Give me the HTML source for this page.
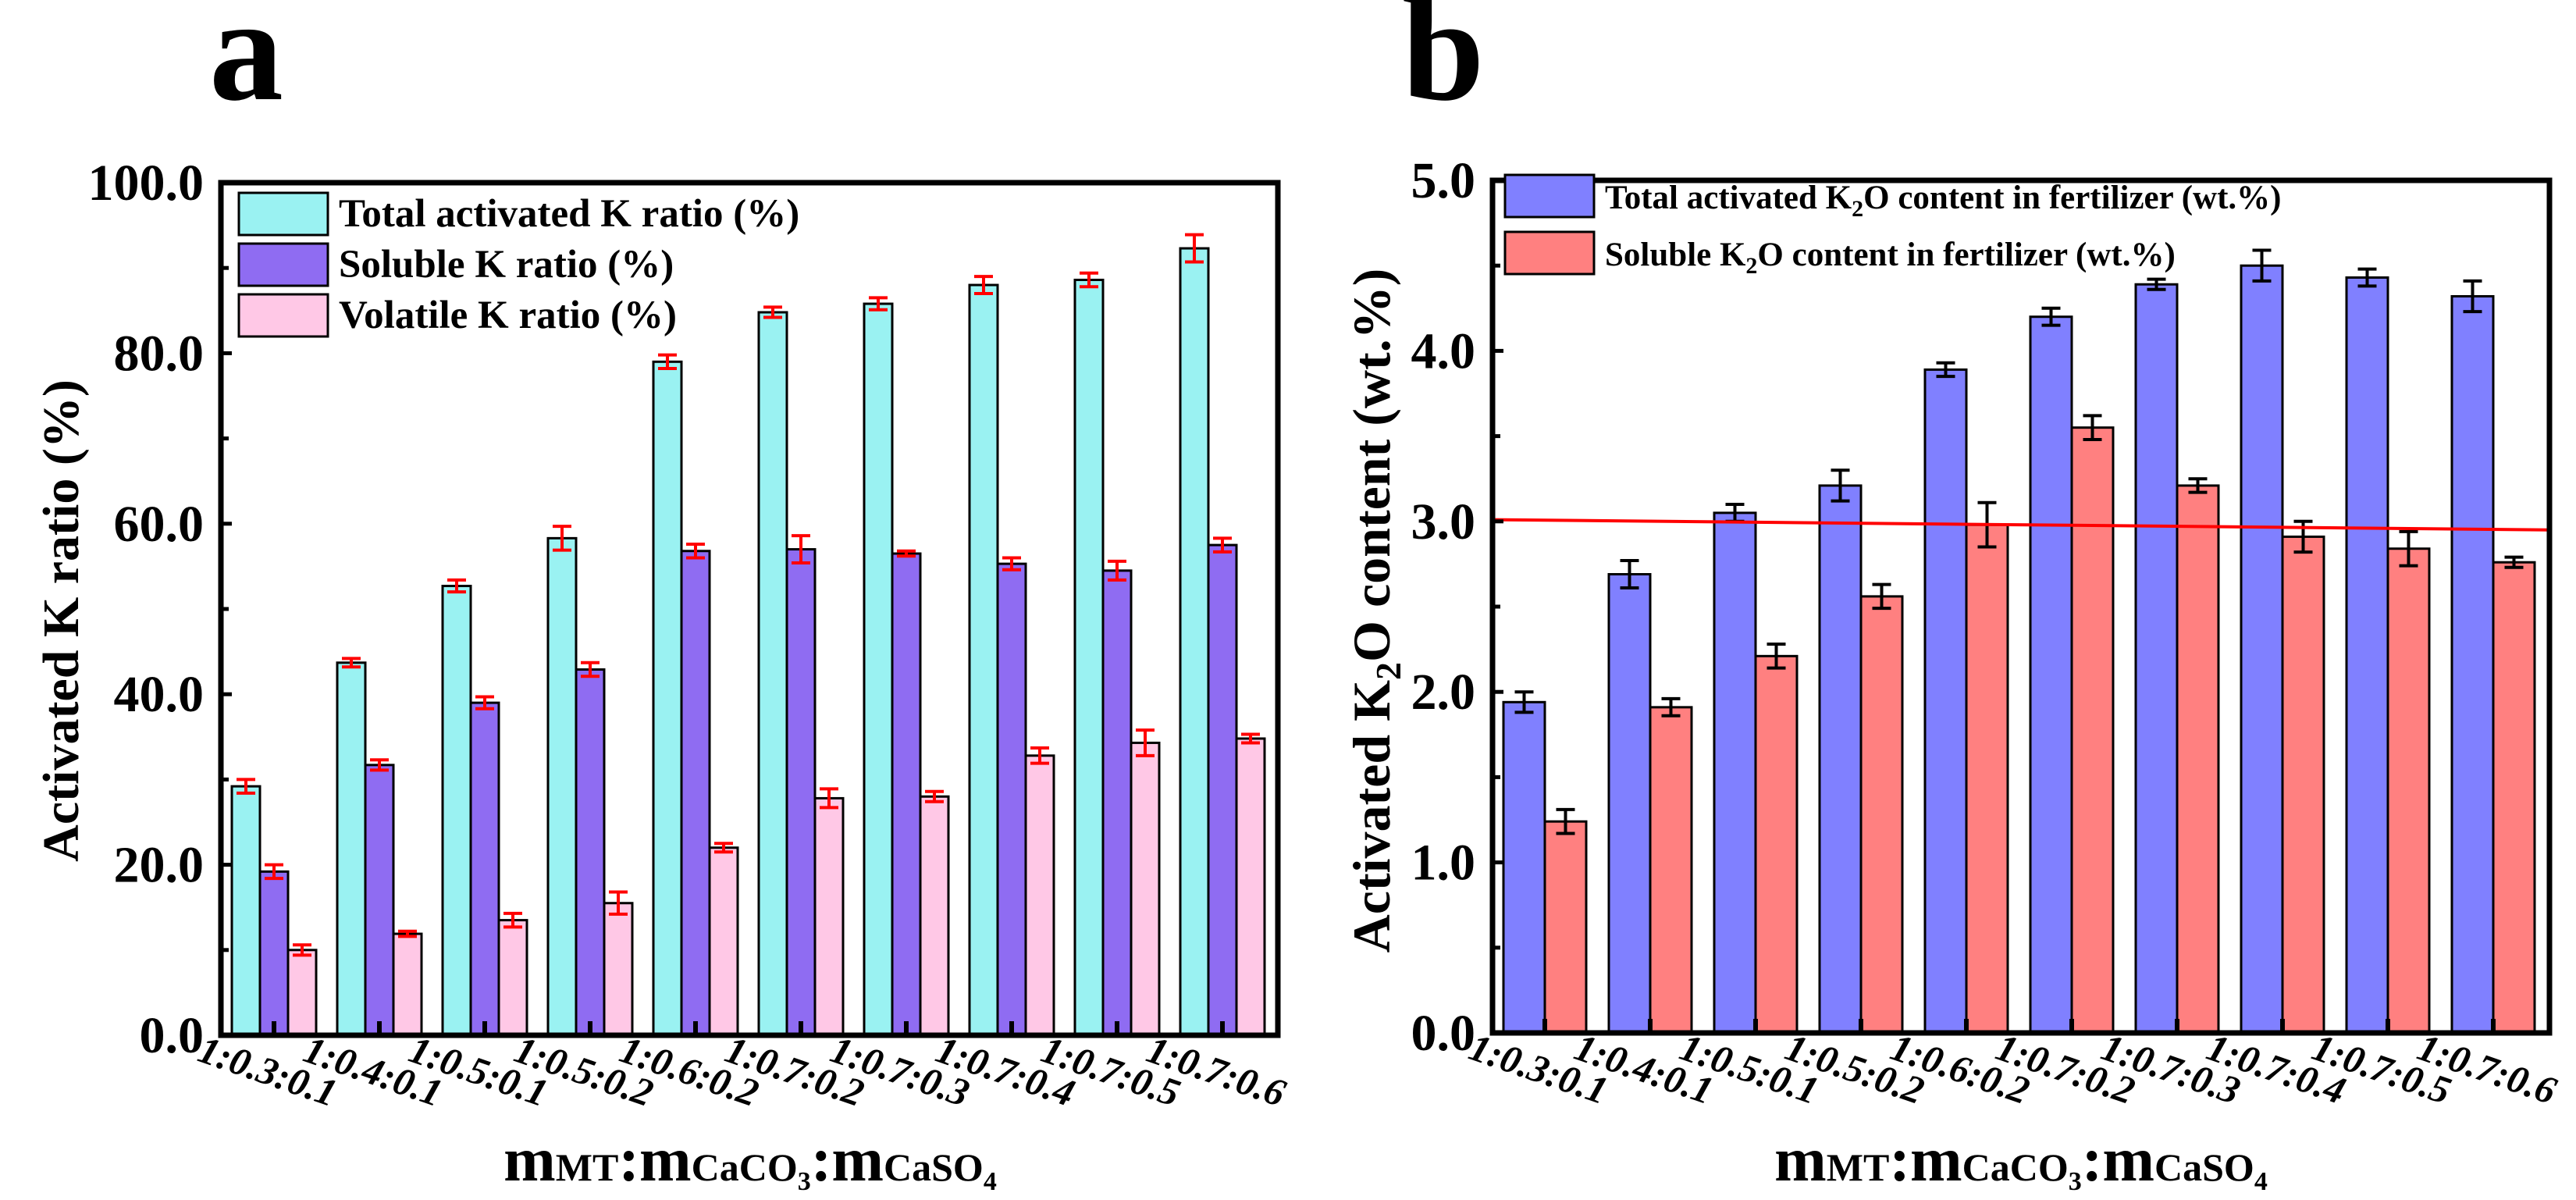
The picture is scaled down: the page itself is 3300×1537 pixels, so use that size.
<!DOCTYPE html>
<html><head><meta charset="utf-8">
<style>
html,body{margin:0;padding:0;background:#fff;}
svg{display:block;font-family:"Liberation Serif",serif;}
</style></head>
<body>
<svg id="svg" width="3300" height="1537" viewBox="0 0 3300 1537" xmlns="http://www.w3.org/2000/svg">
  <text x="268" y="127" font-size="190" font-weight="bold">a</text>
  <text x="1796" y="127" font-size="190" font-weight="bold">b</text>
  <g id="chartA"></g>
  <g id="chartB"></g>
  <text x="100" y="795" transform="rotate(-90 100 795)" text-anchor="middle" font-size="66" font-weight="bold">Activated K ratio (%)</text>
  <text x="1780" y="782" transform="rotate(-90 1780 782)" text-anchor="middle" font-size="68" font-weight="bold">Activated K<tspan font-size="46" dy="14">2</tspan><tspan dy="-14">O content (wt.%)</tspan></text>
  <text x="961" y="1512" text-anchor="middle" font-weight="bold"><tspan font-size="80">m</tspan><tspan font-size="50">MT</tspan><tspan font-size="80">:m</tspan><tspan font-size="50">CaCO</tspan><tspan font-size="34" dy="12">3</tspan><tspan font-size="80" dy="-12">:m</tspan><tspan font-size="50">CaSO</tspan><tspan font-size="34" dy="12">4</tspan></text>
  <text x="2589" y="1512" text-anchor="middle" font-weight="bold"><tspan font-size="80">m</tspan><tspan font-size="50">MT</tspan><tspan font-size="80">:m</tspan><tspan font-size="50">CaCO</tspan><tspan font-size="34" dy="12">3</tspan><tspan font-size="80" dy="-12">:m</tspan><tspan font-size="50">CaSO</tspan><tspan font-size="34" dy="12">4</tspan></text>
</svg>
<script>
const categories = ["1:0.3:0.1","1:0.4:0.1","1:0.5:0.1","1:0.5:0.2","1:0.6:0.2","1:0.7:0.2","1:0.7:0.3","1:0.7:0.4","1:0.7:0.5","1:0.7:0.6"];
const totalK = [29.2,43.7,52.7,58.3,79.0,84.8,85.8,88.0,88.6,92.3];
const totalKErr = [0.8,0.5,0.7,1.4,0.8,0.6,0.7,1.0,0.8,1.6];
const solubleK = [19.2,31.7,39.0,42.9,56.8,57.0,56.5,55.3,54.5,57.5];
const solubleKErr = [0.8,0.6,0.7,0.8,0.8,1.6,0.3,0.7,1.1,0.8];
const volatileK = [10.0,11.9,13.5,15.5,22.0,27.8,28.0,32.8,34.3,34.8];
const volatileKErr = [0.6,0.3,0.8,1.3,0.5,1.1,0.6,0.9,1.5,0.5];
const ticksA = ["0.0","20.0","40.0","60.0","80.0","100.0"];
const totalK2O = [1.94,2.69,3.05,3.21,3.89,4.20,4.39,4.50,4.43,4.32];
const totalK2OErr = [0.06,0.08,0.05,0.09,0.04,0.05,0.03,0.09,0.05,0.09];
const solubleK2O = [1.24,1.91,2.21,2.56,2.98,3.55,3.21,2.91,2.84,2.76];
const solubleK2OErr = [0.07,0.05,0.07,0.07,0.13,0.07,0.04,0.09,0.10,0.03];
const ticksB = ["0.0","1.0","2.0","3.0","4.0","5.0"];
const refLine = [3.01, 2.95];

const NS = "http://www.w3.org/2000/svg";
function mk(parent, tag, attrs, text){
  const e = document.createElementNS(NS, tag);
  for (const k in attrs) e.setAttribute(k, attrs[k]);
  if (text !== undefined) e.textContent = text;
  parent.appendChild(e);
  return e;
}

function drawChart(g, cfg){
  const L=cfg.left, R=cfg.left+1354, T=cfg.top, B=cfg.bottom;
  const y = v => B - (v - 0) / cfg.max * (B - T);
  const cx = i => cfg.firstCenter + i * 135;
  const nS = cfg.series.length;
  cfg.series.forEach((s, si) => {
    s.values.forEach((v, i) => {
      const x0 = cx(i) - nS * cfg.bw / 2 + si * cfg.bw;
      const r = mk(g, "rect", {x:x0, y:y(v), width:cfg.bw, height:B-y(v), fill:s.color, stroke:"#000", "stroke-width":3});
      
      
    });
  });
  cfg.series.forEach((s, si) => {
    s.values.forEach((v, i) => {
      const xc = cx(i) - nS * cfg.bw / 2 + si * cfg.bw + cfg.bw/2;
      const e = s.err[i];
      const eg = mk(g, "g", {stroke:cfg.errColor, "stroke-width":4, fill:"none"});
      
      
      mk(eg, "line", {x1:xc, x2:xc, y1:y(v+e), y2:y(v-e)});
      mk(eg, "line", {x1:xc-12, x2:xc+12, y1:y(v+e), y2:y(v+e)});
      mk(eg, "line", {x1:xc-12, x2:xc+12, y1:y(v-e), y2:y(v-e)});
    });
  });
  if (cfg.ref){
    const l = mk(g, "line", {x1:L, x2:R, y1:y(cfg.ref[0]), y2:y(cfg.ref[1]), stroke:"#ff0000", "stroke-width":4});
    
    
  }
  const fr = mk(g, "rect", {x:L, y:T, width:R-L, height:B-T, fill:"none", stroke:"#000", "stroke-width":7});
  
  
  cfg.ticks.forEach((t, i) => {
    const v = i * cfg.max / (cfg.ticks.length - 1);
    mk(g, "line", {x1:L, x2:L+14, y1:y(v), y2:y(v), stroke:"#000", "stroke-width":5});
    const tl = mk(g, "text", {x:cfg.left-22, y:y(v)+22, "text-anchor":"end", "font-size":66, "font-weight":"bold"}, t);
    
    
    if (i < cfg.ticks.length - 1){
      const mv = v + cfg.max / (cfg.ticks.length - 1) / 2;
      mk(g, "line", {x1:L, x2:L+10, y1:y(mv), y2:y(mv), stroke:"#000", "stroke-width":5});
    }
  });
  categories.forEach((c, i) => {
    mk(g, "line", {x1:cx(i), x2:cx(i), y1:B, y2:B-18, stroke:"#000", "stroke-width":6});
    const lx = cx(i) - 100, ly = B + 32;
    const tl = mk(g, "text", {x:lx, y:ly, transform:"rotate(19 "+lx+" "+ly+")", "font-size":50, "font-weight":"bold", "font-style":"italic"}, c);
    
    
  });
  cfg.legend.forEach((lg, i) => {
    const ly = cfg.legY + i * cfg.legStep;
    const lgg = mk(g, "g", {});
    
    
    mk(lgg, "rect", {x:cfg.legX, y:ly, width:114, height:54, fill:lg.color, stroke:"#000", "stroke-width":3});
    const t = mk(lgg, "text", {x:cfg.legX+128, y:ly+43, "font-size":cfg.legFont, "font-weight":"bold"});
    t.innerHTML = lg.html;
  });
}

drawChart(document.getElementById("chartA"), {
  left:283, top:234, bottom:1326, max:100, firstCenter:351, bw:36, errColor:"#ff0000",
  series:[{key:"total",values:totalK,err:totalKErr,color:"#9af2f2"},
          {key:"soluble",values:solubleK,err:solubleKErr,color:"#8f6cf2"},
          {key:"volatile",values:volatileK,err:volatileKErr,color:"#ffc8e6"}],
  ticks:ticksA, legX:306, legY:247, legStep:65, legFont:51,
  legend:[{key:"total",color:"#9af2f2",html:"Total activated K ratio (%)"},
          {key:"soluble",color:"#8f6cf2",html:"Soluble K ratio (%)"},
          {key:"volatile",color:"#ffc8e6",html:"Volatile K ratio (%)"}]
});
drawChart(document.getElementById("chartB"), {
  left:1912, top:231, bottom:1323, max:5, firstCenter:1979, bw:53, errColor:"#000",
  series:[{key:"total-k2o",values:totalK2O,err:totalK2OErr,color:"#8080ff"},
          {key:"soluble-k2o",values:solubleK2O,err:solubleK2OErr,color:"#ff8080"}],
  ref:refLine,
  ticks:ticksB, legX:1928, legY:224, legStep:73, legFont:43,
  legend:[{key:"total-k2o",color:"#8080ff",html:'Total activated K<tspan font-size="30" dy="10">2</tspan><tspan dy="-10">O content in fertilizer (wt.%)</tspan>'},
          {key:"soluble-k2o",color:"#ff8080",html:'Soluble K<tspan font-size="30" dy="10">2</tspan><tspan dy="-10">O content in fertilizer (wt.%)</tspan>'}]
});
</script>
</body></html>
